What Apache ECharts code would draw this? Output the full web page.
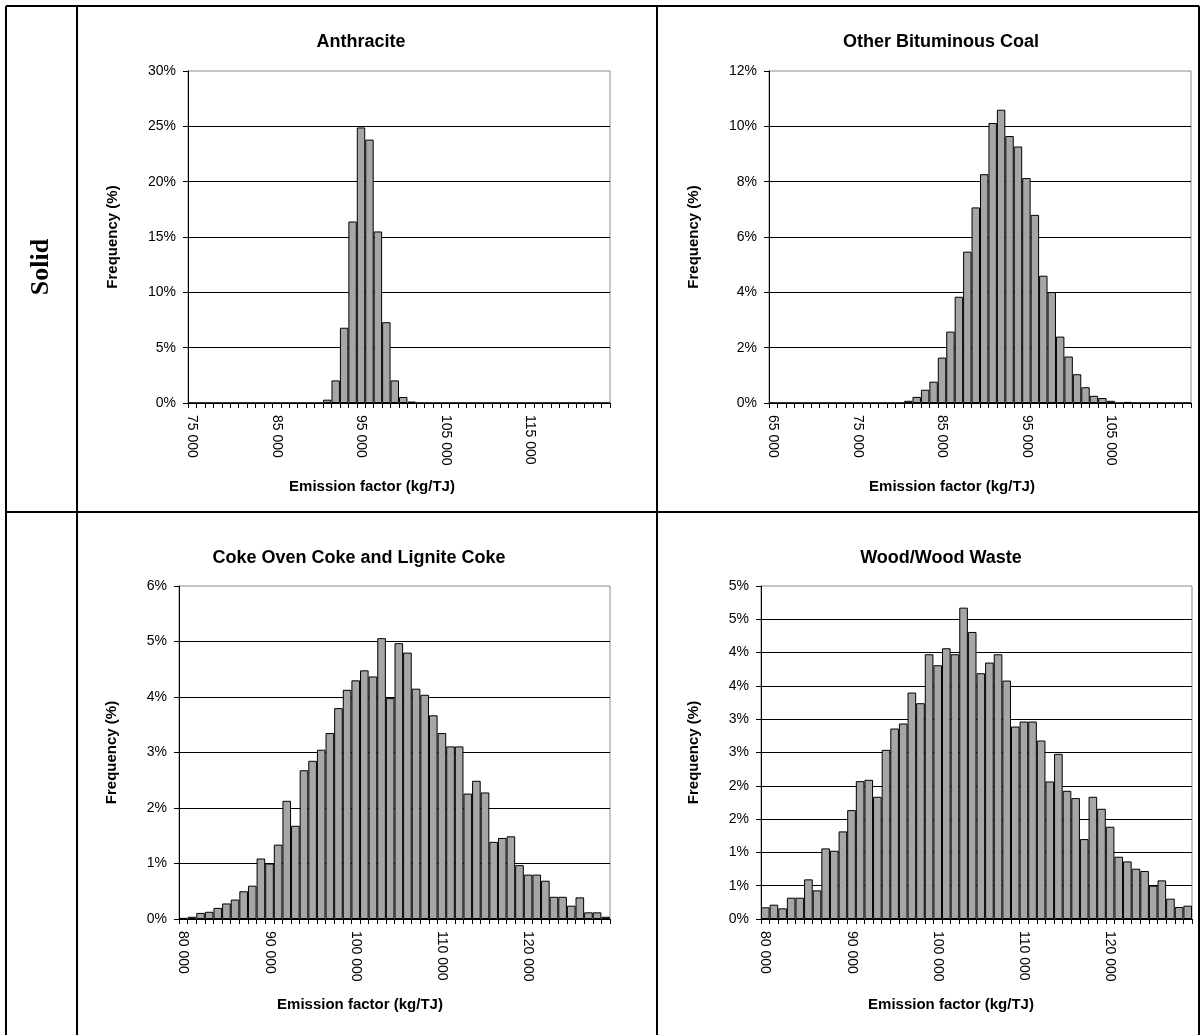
<!DOCTYPE html>
<html>
<head>
<meta charset="utf-8">
<script src="https://cdn.jsdelivr.net/npm/echarts@6/dist/echarts.min.js"></script>
<style>
  html, body { margin: 0; padding: 0; background: #fff; }
  #chart { width: 1204px; height: 1035px; }
</style>
</head>
<body>
<div id="chart"></div>
<script>
// frequency (%) per 1 000 kg/TJ bin
const binWidth = 1000;

const anthraciteStart = 75000;
const anthraciteFreq = [
  0, 0, 0, 0, 0, 0, 0, 0, 0, 0,
  0, 0, 0, 0, 0, 0, 0.3, 2.04, 6.8, 16.4,
  24.9, 23.8, 15.5, 7.3, 2.04, 0.54, 0.13, 0, 0, 0,
  0, 0, 0, 0, 0, 0, 0, 0, 0, 0,
  0, 0, 0, 0, 0, 0, 0, 0, 0, 0
];

const bituminousStart = 65000;
const bituminousFreq = [
  0, 0, 0, 0, 0, 0, 0, 0, 0, 0,
  0, 0, 0, 0, 0, 0, 0.08, 0.22, 0.48, 0.77,
  1.64, 2.58, 3.84, 5.47, 7.07, 8.27, 10.12, 10.6, 9.65, 9.27,
  8.13, 6.8, 4.6, 4.01, 2.4, 1.68, 1.04, 0.57, 0.26, 0.18,
  0.08, 0, 0.04, 0, 0, 0, 0, 0, 0, 0
];

const cokeStart = 80000;
const cokeFreq = [
  0.02, 0.04, 0.11, 0.13, 0.2, 0.28, 0.35, 0.5, 0.6, 1.09,
  1.0, 1.34, 2.13, 1.68, 2.68, 2.85, 3.05, 3.35, 3.8, 4.13,
  4.3, 4.48, 4.37, 5.06, 3.98, 4.97, 4.8, 4.15, 4.04, 3.67,
  3.35, 3.11, 3.11, 2.26, 2.49, 2.28, 1.39, 1.46, 1.49, 0.97,
  0.8, 0.8, 0.69, 0.4, 0.4, 0.24, 0.39, 0.12, 0.12, 0.04
];

const woodStart = 80000;
const woodFreq = [
  0.175, 0.215, 0.16, 0.32, 0.32, 0.595, 0.43, 1.06, 1.025, 1.315,
  1.635, 2.07, 2.09, 1.835, 2.54, 2.86, 2.935, 3.4, 3.24, 3.975,
  3.81, 4.065, 3.975, 4.675, 4.31, 3.69, 3.85, 3.975, 3.58, 2.89,
  2.965, 2.965, 2.68, 2.065, 2.48, 1.925, 1.815, 1.2, 1.835, 1.655,
  1.385, 0.935, 0.865, 0.755, 0.72, 0.5, 0.58, 0.305, 0.18, 0.2
];

const titles = ['Anthracite', 'Other Bituminous Coal', 'Coke Oven Coke and Lignite Coke', 'Wood/Wood Waste'];
const yMax = [30, 12, 6, 5];
const yStep = [5, 2, 1, 0.5];
const rowLabel = 'Solid';
const xName = 'Emission factor (kg/TJ)';
const yName = 'Frequency (%)';

function binStarts(start, n) {
  let out = [];
  for (let i = 0; i < n; i++) out.push(start + i * binWidth);
  return out;
}

function fmtThousands(v) {
  return String(v).replace(/\B(?=(\d{3})+(?!\d))/g, ' ');
}

const FONT = '"Liberation Sans", Arial, sans-serif';

// layout of the four panels (pixels)
const panels = [
  { start: anthraciteStart, data: anthraciteFreq, grid: { left: 188, top: 71, width: 422, height: 332 }, titleX: 361, titleY: 33, nameX: 372, nameY: 479, yGap: 68 },
  { start: bituminousStart, data: bituminousFreq, grid: { left: 769, top: 71, width: 422, height: 332 }, titleX: 941, titleY: 33, nameX: 952, nameY: 479, yGap: 68 },
  { start: cokeStart, data: cokeFreq, grid: { left: 179, top: 586, width: 431, height: 333 }, titleX: 359, titleY: 549, nameX: 360, nameY: 997, yGap: 60 },
  { start: woodStart, data: woodFreq, grid: { left: 761, top: 586, width: 431, height: 333 }, titleX: 941, titleY: 549, nameX: 951, nameY: 997, yGap: 60 }
];

var myChart = echarts.init(document.getElementById('chart'), null, { renderer: 'canvas' });

var option = {
  backgroundColor: '#fff',
  animation: false,
  title: [],
  grid: [],
  xAxis: [],
  yAxis: [],
  series: [],
  graphic: [
    // table frame
    { type: 'line', shape: { x1: 6, y1: 6, x2: 1199, y2: 6 }, style: { stroke: '#000', lineWidth: 2 } },
    { type: 'line', shape: { x1: 6, y1: 6, x2: 6, y2: 1035 }, style: { stroke: '#000', lineWidth: 2 } },
    { type: 'line', shape: { x1: 1199, y1: 6, x2: 1199, y2: 1035 }, style: { stroke: '#000', lineWidth: 2 } },
    { type: 'line', shape: { x1: 77, y1: 6, x2: 77, y2: 1035 }, style: { stroke: '#000', lineWidth: 2 } },
    { type: 'line', shape: { x1: 657, y1: 6, x2: 657, y2: 1035 }, style: { stroke: '#000', lineWidth: 2 } },
    { type: 'line', shape: { x1: 6, y1: 512, x2: 1199, y2: 512 }, style: { stroke: '#000', lineWidth: 2 } },
    {
      type: 'text', x: 41, y: 267, rotation: Math.PI / 2,
      style: { text: rowLabel, font: 'bold 26px "Liberation Serif", "Times New Roman", serif', fill: '#000', align: 'center', verticalAlign: 'middle' }
    }
  ]
};

panels.forEach(function (p, i) {
  option.title.push({
    text: titles[i], left: p.titleX, top: p.titleY, textAlign: 'center', padding: 0,
    textStyle: { fontFamily: FONT, fontSize: 18, fontWeight: 'bold', color: '#000' }
  });
  option.title.push({
    text: xName, left: p.nameX, top: p.nameY, textAlign: 'center', padding: 0,
    textStyle: { fontFamily: FONT, fontSize: 15, fontWeight: 'bold', color: '#000' }
  });
  option.grid.push(Object.assign({ show: true, borderColor: '#8c8c8c', borderWidth: 1, backgroundColor: '#fff' }, p.grid));
  option.xAxis.push({
    type: 'category',
    gridIndex: i,
    data: binStarts(p.start, p.data.length),
    boundaryGap: true,
    axisLine: { lineStyle: { color: '#000', width: 1 } },
    axisTick: { show: true, interval: 0, length: 5, lineStyle: { color: '#000' } },
    axisLabel: {
      interval: 9, rotate: -90, margin: 12,
      fontFamily: FONT, fontSize: 14, color: '#000',
      formatter: fmtThousands
    },
    splitLine: { show: false }
  });
  option.yAxis.push({
    type: 'value',
    gridIndex: i,
    min: 0, max: yMax[i], interval: yStep[i],
    name: yName, nameLocation: 'middle', nameRotate: 90, nameGap: p.yGap,
    nameTextStyle: { fontFamily: FONT, fontSize: 15, fontWeight: 'bold', color: '#000' },
    axisLine: { show: true, lineStyle: { color: '#000', width: 1 } },
    axisTick: { show: true, length: 5, lineStyle: { color: '#000' } },
    axisLabel: {
      margin: 12, fontFamily: FONT, fontSize: 14, color: '#000',
      formatter: function (v) { return Math.round(v) + '%'; }
    },
    splitLine: { show: true, showMaxLine: false, lineStyle: { color: '#000', width: 1 } }
  });
  option.series.push({
    type: 'bar',
    xAxisIndex: i,
    yAxisIndex: i,
    data: p.data,
    barCategoryGap: '0%',
    itemStyle: { color: '#a6a6a6', borderColor: '#000', borderWidth: 1 }
  });
});

myChart.setOption(option);
window.addEventListener('resize', myChart.resize);
</script>
</body>
</html>
